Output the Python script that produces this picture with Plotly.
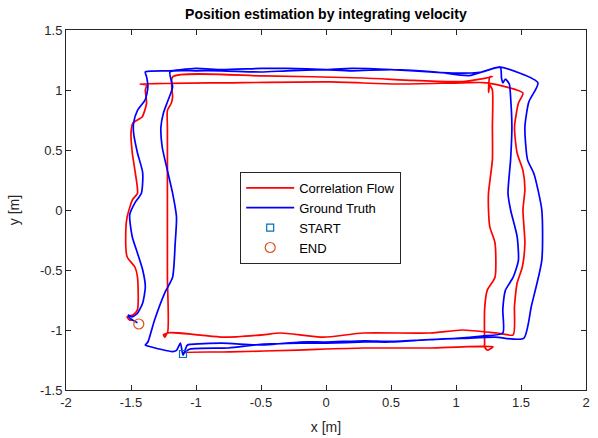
import plotly.graph_objects as go

# Ground truth trajectory (blue)
gt_x = [-1.10, -1.05, -0.75, -0.5, -0.2, 0.0, 0.3, 0.5, 0.8, 1.05, 1.3, 1.52,
        1.58, 1.66, 1.66, 1.6, 1.55, 1.53, 1.56, 1.63, 1.34,
        1.2, 1.0, 0.8, 0.5, 0.2, 0.0, -0.3, -0.5, -0.8, -1.0, -1.2,
        -1.18, -1.22, -1.25, -1.27, -1.26, -1.22, -1.18, -1.15, -1.16, -1.18, -1.24, -1.32, -1.37, -1.39, -1.35, -1.18, -1.15,
        -1.12, -1.10, -1.07, -1.05, -0.8, -0.5, -0.2, 0.0, 0.3, 0.5, 0.8, 1.0, 1.2, 1.36,
        1.36, 1.38, 1.44, 1.48, 1.47, 1.42, 1.40, 1.42, 1.43, 1.42, 1.41, 1.38, 1.36, 1.35, 1.34,
        1.1, 0.85, 0.5, 0.2, 0.0, -0.3, -0.5, -0.8, -1.0, -1.2, -1.39,
        -1.38, -1.37, -1.39, -1.45, -1.48, -1.48, -1.45, -1.41, -1.42, -1.47, -1.51, -1.49, -1.45, -1.41, -1.39, -1.41, -1.45, -1.49, -1.52, -1.51, -1.45]
gt_y = [-1.20, -1.16, -1.15, -1.12, -1.11, -1.11, -1.10, -1.10, -1.08, -1.07, -1.06, -1.07,
        -0.8, -0.42, 0.0, 0.3, 0.42, 0.69, 0.9, 1.06, 1.19,
        1.15, 1.14, 1.15, 1.17, 1.18, 1.17, 1.16, 1.15, 1.16, 1.16, 1.15,
        1.025, 0.9, 0.81, 0.69, 0.525, 0.33, 0.14, -0.06, -0.275, -0.56, -0.69, -0.92, -1.10, -1.125, -1.14, -1.18, -1.17,
        -1.11, -1.21, -1.13, -1.12, -1.11, -1.125, -1.10, -1.10, -1.09, -1.095, -1.08, -1.07, -1.05, -1.025,
        -0.83, -0.67, -0.56, -0.42, -0.22, 0.0, 0.14, 0.42, 0.69, 0.94, 1.05, 1.09, 1.06, 1.10, 1.19,
        1.12, 1.15, 1.17, 1.16, 1.17, 1.18, 1.18, 1.17, 1.18, 1.16, 1.15,
        1.11, 1.025, 0.92, 0.83, 0.725, 0.64, 0.475, 0.31, 0.14, 0.06, -0.04, -0.225, -0.36, -0.5, -0.64, -0.775, -0.86, -0.89, -0.875, -0.90, -0.94]

# Correlation flow estimate (red)
cf_x = [-1.10, -1.10, -0.74, -0.22, 0.285, 0.80, 1.05, 1.285, 1.24, 1.22,
        1.22, 1.22, 1.24, 1.30, 1.30, 1.26, 1.25, 1.25, 1.28, 1.28, 1.28, 1.26, 1.25, 1.26, 1.28,
        1.05, 0.67, 0.285, -0.485, -1.18,
        -1.18, -1.19, -1.22, -1.22, -1.22, -1.22, -1.22, -1.22, -1.25, -1.24, -1.22,
        -0.99, -0.79, -0.485, -0.35, -0.02, 0.285, 0.80, 1.05, 1.315, 1.44,
        1.45, 1.47, 1.51, 1.53, 1.515, 1.53, 1.515, 1.47, 1.45, 1.48, 1.515,
        1.24, 1.05, 0.55, 0.03, -0.74, -1.43,
        -1.38, -1.39, -1.38, -1.415, -1.485, -1.50, -1.49, -1.47, -1.45, -1.49, -1.53, -1.54, -1.53, -1.47, -1.45, -1.45, -1.485, -1.53, -1.51, -1.485]
cf_y = [-1.20, -1.19, -1.183, -1.167, -1.15, -1.15, -1.14, -1.14, -1.167, -1.14,
        -1.11, -0.83, -0.67, -0.56, -0.275, -0.14, 0.0, 0.14, 0.42, 0.69, 1.0, 1.04, 0.98, 1.11, 1.11,
        1.07, 1.08, 1.10, 1.117, 1.11,
        0.94, 0.89, 0.83, 0.69, 0.42, 0.0, -0.56, -1.025, -1.04, -1.06, -1.025,
        -1.04, -1.06, -1.04, -1.025, -1.06, -1.025, -1.025, -1.0, -1.025, -1.04,
        -0.8, -0.61, -0.475, -0.275, 0.0, 0.17, 0.33, 0.475, 0.69, 0.89, 0.975,
        1.06, 1.06, 1.05, 1.067, 1.06, 1.05,
        1.04, 1.0, 0.89, 0.775, 0.725, 0.64, 0.475, 0.33, 0.14, 0.083, -0.06, -0.167, -0.39, -0.475, -0.56, -0.83, -0.875, -0.89, -0.917, -0.917]

start_pt = (-1.10, -1.20)
end_pt = (-1.44, -0.95)

x_ticks = [-2, -1.5, -1, -0.5, 0, 0.5, 1, 1.5, 2]
y_ticks = [-1.5, -1, -0.5, 0, 0.5, 1, 1.5]

fig = go.Figure()
fig.add_trace(go.Scatter(x=cf_x, y=cf_y, mode="lines", name="Correlation Flow",
                         line=dict(color="#FF0000", width=1.7, shape="spline", smoothing=0.6)))
fig.add_trace(go.Scatter(x=gt_x, y=gt_y, mode="lines", name="Ground Truth",
                         line=dict(color="#0000FF", width=1.7, shape="spline", smoothing=0.6)))
fig.add_trace(go.Scatter(x=[start_pt[0]], y=[start_pt[1]], mode="markers", name="START",
                         marker=dict(symbol="square-open", size=7, color="#0072BD", line=dict(width=1.2))))
fig.add_trace(go.Scatter(x=[end_pt[0]], y=[end_pt[1]], mode="markers", name="END",
                         marker=dict(symbol="circle-open", size=10, color="#D95319", line=dict(width=1.2))))

axis_common = dict(showgrid=False, zeroline=False, showline=True, linecolor="#262626", linewidth=1,
                   mirror="ticks", ticks="inside", ticklen=5, tickcolor="#262626", automargin=False,
                   tickfont=dict(family="Liberation Sans, Arial", size=13, color="#262626"))

fig.update_layout(
    width=598, height=438,
    margin=dict(l=66, r=12, t=30, b=48, autoexpand=False),
    paper_bgcolor="white", plot_bgcolor="white",
    font=dict(family="Liberation Sans, Arial", size=13, color="#262626"),
    title=dict(text="<b>Position estimation by integrating velocity</b>", x=0.545, xanchor="center",
               y=1 - 14 / 438, yref="container", yanchor="middle",
               font=dict(family="Liberation Sans, Arial", size=14, color="black")),
    xaxis=dict(range=[-2, 2], tickvals=x_ticks, ticktext=[str(v) for v in x_ticks],
               title=dict(text="x [m]", standoff=13, font=dict(size=14)), **axis_common),
    yaxis=dict(range=[-1.5, 1.5], tickvals=y_ticks, ticktext=[str(v) for v in y_ticks],
               title=dict(text="y [m]", standoff=17, font=dict(size=14)), **axis_common),
    legend=dict(x=0.335, y=0.606, xanchor="left", yanchor="top", bgcolor="white",
                bordercolor="#262626", borderwidth=1, tracegroupgap=0, itemwidth=48,
                font=dict(family="Liberation Sans, Arial", size=13, color="black")),
    showlegend=True,
)

fig.write_html("out.html", config={"displayModeBar": False},
               post_script="document.body.style.margin='0';")
